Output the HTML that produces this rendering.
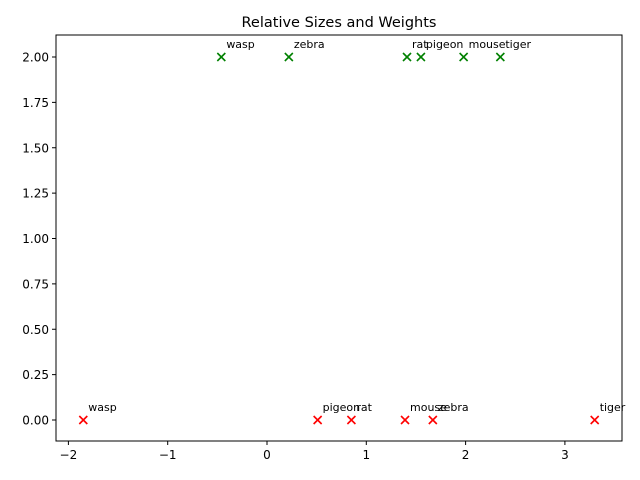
<!DOCTYPE html>
<html><head><meta charset="utf-8"><style>body{margin:0;background:#fff}svg{display:block;font-family:"DejaVu Sans","Liberation Sans",sans-serif}</style></head>
<body>
<svg id="chart" width="640" height="480"></svg>
<script>
const sizeNames = ["wasp","zebra","rat","pigeon","mouse","tiger"];
const sizeX = [-0.46,0.22,1.41,1.55,1.98,2.35];
const sizeY = [2,2,2,2,2,2];
const weightNames = ["wasp","pigeon","rat","mouse","zebra","tiger"];
const weightX = [-1.85,0.51,0.85,1.39,1.67,3.30];
const weightY = [0,0,0,0,0,0];
const xTicks = [-2,-1,0,1,2,3];
const yTicks = [0,0.25,0.5,0.75,1,1.25,1.5,1.75,2];

const NS="http://www.w3.org/2000/svg";
const svg=document.getElementById('chart');
const L=56,R=622,T=35,B=441;
const X=v=>267+v*99.3;
const Y=v=>420-v*181.5;
function mk(tag,attrs,parent){const e=document.createElementNS(NS,tag);for(const k in attrs)e.setAttribute(k,attrs[k]);(parent||svg).appendChild(e);return e;}

const title=mk('text',{x:(L+R)/2,y:27,'text-anchor':'middle','font-size':14.5});
title.textContent='Relative Sizes and Weights';



const frame=mk('rect',{x:L,y:T,width:R-L,height:B-T,fill:'none',stroke:'#000','stroke-width':1});



xTicks.forEach(t=>{
  const x=X(t);
  mk('line',{x1:x,x2:x,y1:B,y2:B+4,stroke:'#000'});
  const tx=mk('text',{x:x,y:B+18,'text-anchor':'middle','font-size':12});
  tx.textContent=t<0?'\u2212'+Math.abs(t):String(t);
  
  
});
yTicks.forEach(t=>{
  const y=Y(t);
  mk('line',{x1:L-4,x2:L,y1:y,y2:y,stroke:'#000'});
  const tx=mk('text',{x:L-7,y:y+4.5,'text-anchor':'end','font-size':12});
  tx.textContent=t.toFixed(2);
  
  
});

function series(xs,ys,names,color,nm){
  xs.forEach((v,i)=>{
    const cx=X(v),cy=Y(ys[i]),s=4;
    const g=mk('g',{stroke:color,'stroke-width':1.6});
    
    
    mk('line',{x1:cx-s,y1:cy-s,x2:cx+s,y2:cy+s},g);
    mk('line',{x1:cx-s,y1:cy+s,x2:cx+s,y2:cy-s},g);
    const t=mk('text',{x:cx+5,y:cy-9,'font-size':11});
    t.textContent=names[i];
    
    
  });
}
series(sizeX,sizeY,sizeNames,'green','size');
series(weightX,weightY,weightNames,'red','weight');
</script>
</body></html>
